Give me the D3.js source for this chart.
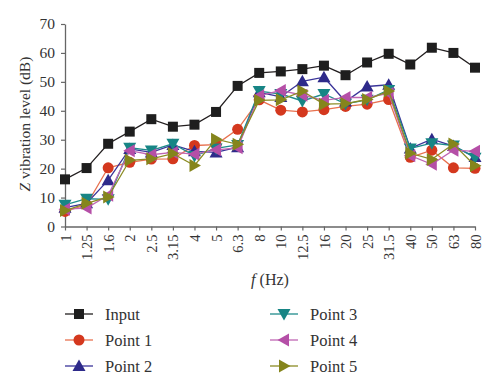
<!DOCTYPE html>
<html lang="en">
<head>
<meta charset="UTF-8">
<title>Z vibration level</title>
<style>
  body { margin: 0; background: #fff; }
  text { font-family: "Liberation Serif", "DejaVu Serif", serif; fill: #333; }
</style>
</head>
<body>
<script src="https://d3js.org/d3.v7.min.js"></script>
<script>
// frequency bands (Hz)
const freqs = ["1", "1.25", "1.6", "2", "2.5", "3.15", "4", "5", "6.3", "8", "10",
               "12.5", "16", "20", "25", "31.5", "40", "50", "63", "80"];
const yTicks = [0, 10, 20, 30, 40, 50, 60, 70];

const input  = [16.3, 20.2, 28.6, 32.8, 37.1, 34.5, 35.2, 39.6, 48.6, 53.1, 53.6, 54.4, 55.6, 52.3, 56.7, 59.7, 56, 61.8, 60, 54.9];
const point1 = [5.2, 7.5, 20.3, 22.2, 23.3, 23.4, 28, 28.3, 33.6, 43.8, 40.2, 39.6, 40.4, 41.5, 42.3, 43.9, 23.9, 26.4, 20.3, 20.1];
const point2 = [6.5, 8, 16, 26.8, 25.6, 28.2, 26, 25.6, 27.4, 46.4, 44.8, 50.2, 51.6, 43.2, 48.4, 49, 27, 30.2, 27.8, 24];
const point3 = [7.5, 9.6, 9.4, 27.2, 26.3, 28.6, 24.4, 27, 28.2, 46.8, 45.8, 43.4, 45.8, 42.4, 43.8, 47.2, 27, 28.8, 28, 23.8];
const point4 = [6, 6.4, 10.8, 26.2, 24.8, 25.6, 25, 26.5, 27.2, 45.2, 47, 45.4, 43.6, 44.6, 44.6, 46, 24.5, 21.5, 26.4, 26];
const point5 = [5.5, 8, 10.2, 22.9, 23.4, 25.2, 21.1, 30.2, 28.4, 43.6, 43.8, 46.8, 42.3, 42.5, 43.9, 46.8, 25.3, 23.2, 28.5, 21];

const seriesNames = ["Input", "Point 1", "Point 2", "Point 3", "Point 4", "Point 5"];
const seriesData = [input, point1, point2, point3, point4, point5];
const lineColors = ["#231f20", "#e8714f", "#3a3499", "#1f8c8c", "#c067b4", "#8c8c24"];
const markColors = ["#1e1e1e", "#d4381e", "#2e2a8a", "#178585", "#b54fa7", "#85851c"];
const symbols = ["square", "circle", "up", "down", "left", "right"];

const W = 500, H = 389;
const svg = d3.select("body").append("svg").attr("width", W).attr("height", H);

const x = d3.scalePoint().domain(freqs).range([65, 475]);
const y = d3.scaleLinear().domain([0, 70]).range([226.5, 24]);

// draws a marker of the given kind centred at 0,0
function marker(g, kind, color) {
  if (kind === "square") {
    g.append("rect").attr("x", -5).attr("y", -5).attr("width", 10).attr("height", 10).attr("fill", color);
  } else if (kind === "circle") {
    g.append("circle").attr("r", 5.5).attr("fill", color);
  } else {
    const tri = { up: [[0, -6.5], [6.5, 5], [-6.5, 5]],
                  down: [[0, 6.5], [6.5, -5], [-6.5, -5]],
                  left: [[-6.5, 0], [5, -6.5], [5, 6.5]],
                  right: [[6.5, 0], [-5, -6.5], [-5, 6.5]] }[kind];
    g.append("path").attr("d", "M" + tri.join("L") + "Z").attr("fill", color);
  }
}

// axes
const yAxis = svg.append("g").attr("transform", "translate(65,0)")
  .call(d3.axisLeft(y).tickValues(yTicks).tickSize(4).tickSizeOuter(0).tickPadding(6));
const xAxis = svg.append("g").attr("transform", "translate(0,226.5)")
  .call(d3.axisBottom(x).tickSize(4).tickSizeOuter(0));

[yAxis, xAxis].forEach(a => {
  a.select(".domain").attr("stroke", "#666").attr("stroke-width", 1.3);
  a.selectAll(".tick line").attr("stroke", "#666").attr("stroke-width", 1.2);
  a.selectAll("text").attr("font-family", "Liberation Serif, serif").attr("fill", "#333");
});
yAxis.selectAll("text").attr("font-size", 15.5);
xAxis.selectAll("text")
  .attr("font-size", 14.5)
  .attr("transform", "rotate(-90)")
  .attr("text-anchor", "end")
  .attr("x", -8).attr("y", 0).attr("dy", "0.35em");

// axis titles
svg.append("text")
  .attr("transform", "translate(30,124) rotate(-90)")
  .attr("text-anchor", "middle").attr("font-size", 15.5)
  .html('<tspan font-style="italic">Z</tspan> vibration level (dB)');
svg.append("text")
  .attr("x", 270).attr("y", 285)
  .attr("text-anchor", "middle").attr("font-size", 16)
  .html('<tspan font-style="italic">f</tspan> (Hz)');

// series: Input drawn last so it sits on top
const order = [1, 2, 3, 4, 5, 0];
const line = d3.line().x((d, i) => x(freqs[i])).y(d => y(d));
order.forEach(s => {
  const g = svg.append("g");
  g.append("path").datum(seriesData[s]).attr("d", line)
    .attr("fill", "none").attr("stroke", lineColors[s]).attr("stroke-width", 1.3);
  seriesData[s].forEach((v, i) => {
    const m = g.append("g").attr("transform", `translate(${x(freqs[i])},${y(v)})`);
    marker(m, symbols[s], markColors[s]);
  });
});

// legend, two columns of three
const legend = svg.append("g");
seriesNames.forEach((name, s) => {
  const col = Math.floor(s / 3), row = s % 3;
  const lx = 65 + col * 205, ly = 314 + row * 26;
  const item = legend.append("g").attr("transform", `translate(${lx},${ly})`);
  item.append("line").attr("x1", 0).attr("x2", 28).attr("stroke", lineColors[s]).attr("stroke-width", 1.3);
  marker(item.append("g").attr("transform", "translate(14,0)"), symbols[s], markColors[s]);
  item.append("text").attr("x", 40).attr("dy", "0.35em").attr("font-size", 16.5).text(name);
});
</script>
</body>
</html>
